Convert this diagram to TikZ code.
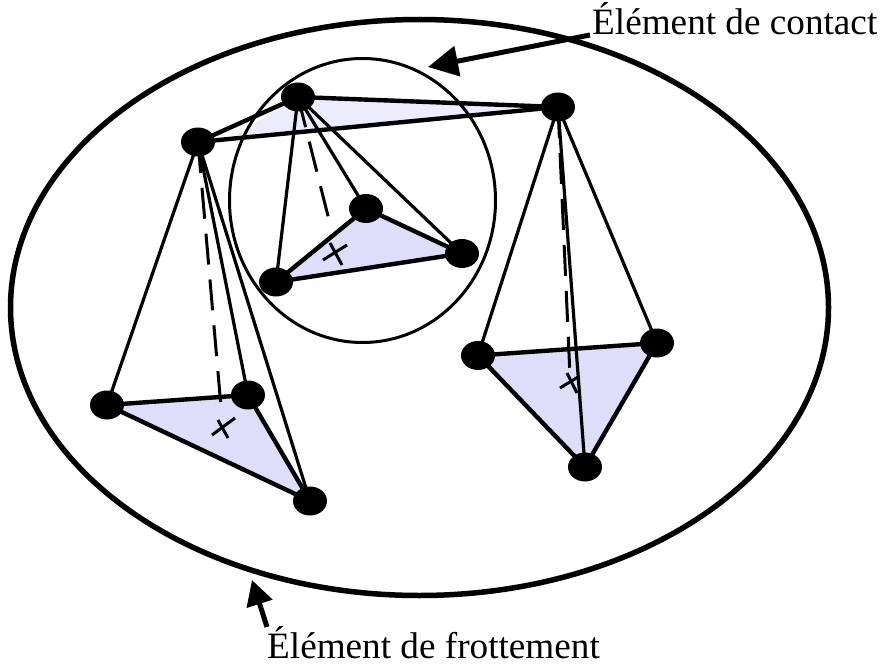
\documentclass[tikz,border=0pt]{standalone}
\usepackage{fontspec}
\setmainfont{Liberation Serif}
\usetikzlibrary{shapes.geometric,arrows.meta,backgrounds}
\definecolor{triblue}{RGB}{222,222,250}
\definecolor{paleblue}{RGB}{236,236,252}
\tikzset{
  vertex/.style={ellipse,fill=black,inner sep=0pt,minimum width=34pt,minimum height=29pt},
  bigring/.style={ellipse,draw=black,inner sep=0pt,outer sep=0pt,line width=5.5pt},
  smallring/.style={ellipse,draw=black,inner sep=0pt,outer sep=0pt,line width=3pt},
  edgethin/.style={line width=3.2pt,black},
  edgethick/.style={line width=4.4pt,black},
  dashline/.style={line width=3pt,black,dash pattern=on 31pt off 15pt},
  cross/.style={line width=3pt,black},
  label/.style={inner sep=0pt,font=\fontsize{37.2}{40}\selectfont,text=black},
  pointer/.style={line width=5pt,black,-{Triangle[length=30pt,width=30pt]}},
  pointertwo/.style={line width=5pt,black,-{Triangle[length=25pt,width=26pt]}}
}
\begin{document}
\begin{tikzpicture}[x=1pt,y=-1pt]
\useasboundingbox (0,0) rectangle (883,666);
% rings
\node[bigring,minimum width=818pt,minimum height=576pt] (frott) at (419.5,307.5) {};
\node[smallring,minimum width=266pt,minimum height=284pt] (cont) at (362.5,200.5) {};
% vertices
\node[vertex] (A) at (198,142) {};
\node[vertex] (B) at (298,97) {};
\node[vertex] (C) at (558,107) {};
\node[vertex] (D) at (276,282) {};
\node[vertex] (E) at (366,208.5) {};
\node[vertex] (F) at (462,253.5) {};
\node[vertex] (G) at (107,405) {};
\node[vertex] (H) at (248,395) {};
\node[vertex] (I) at (310,501) {};
\node[vertex] (J) at (478,355.5) {};
\node[vertex] (K) at (657,343) {};
\node[vertex] (L) at (585,467) {};
% ends of the dashed lines
\coordinate (da) at (221,407);
\coordinate (db) at (329,220);
\coordinate (dc) at (570,376);
\begin{scope}[on background layer]
  \fill[paleblue] (236,135) -- (B.center) -- (510,107) -- (505,113) -- cycle;
  \fill[triblue] (D.center) -- (E.center) -- (F.center) -- cycle;
  \fill[triblue] (G.center) -- (H.center) -- (I.center) -- cycle;
  \fill[triblue] (J.center) -- (K.center) -- (L.center) -- cycle;
  % top triangle
  \draw[edgethick] (A.center) -- (B.center);
  \draw[edgethick] (B.center) -- (C.center);
  \draw[edgethick] (A.center) -- (C.center);
  % middle
  \draw[edgethick] (D.center) -- (E.center);
  \draw[edgethick] (E.center) -- (F.center);
  \draw[edgethick] (D.center) -- (F.center);
  \draw[edgethin] (B.center) -- (D.center);
  \draw[edgethin] (B.center) -- (E.center);
  \draw[edgethin] (B.center) -- (F.center);
  \draw[dashline] (B.center) -- (db);
  % left
  \draw[edgethick] (G.center) -- (H.center);
  \draw[edgethick] (G.center) -- (I.center);
  \draw[edgethick] (H.center) -- (I.center);
  \draw[edgethin] (A.center) -- (G.center);
  \draw[edgethin] (A.center) -- (H.center);
  \draw[edgethin] (A.center) -- (I.center);
  \draw[dashline] (A.center) -- (da);
  % right
  \draw[edgethick] (J.center) -- (K.center);
  \draw[edgethick] (J.center) -- (L.center);
  \draw[edgethick] (K.center) -- (L.center);
  \draw[edgethin] (C.center) -- (J.center);
  \draw[edgethin] (C.center) -- (K.center);
  \draw[edgethin] (C.center) -- (L.center);
  \draw[dashline] (C.center) -- (dc);
\end{scope}
% crosses
\draw[cross] (323,260) -- (347,245);
\draw[cross] (330,243) -- (342,265);
\draw[cross] (212,435) -- (235,418);
\draw[cross] (218,420) -- (228,438);
\draw[cross] (560,388) -- (578,377);
\draw[cross] (567,373) -- (577,393);
% labels
\node[label,anchor=base west] (lc) at (592,35) {Élément de contact};
\node[label,anchor=base west] (lf) at (267,658) {Élément de frottement};
\coordinate (tc) at (428,67);
\coordinate (tf) at (252,580);
\coordinate (sc) at (590,35);
\coordinate (sf) at (267,627);
\draw[pointer] (sc) -- (tc);
\draw[pointertwo] (sf) -- (tf);
\end{tikzpicture}
\end{document}
